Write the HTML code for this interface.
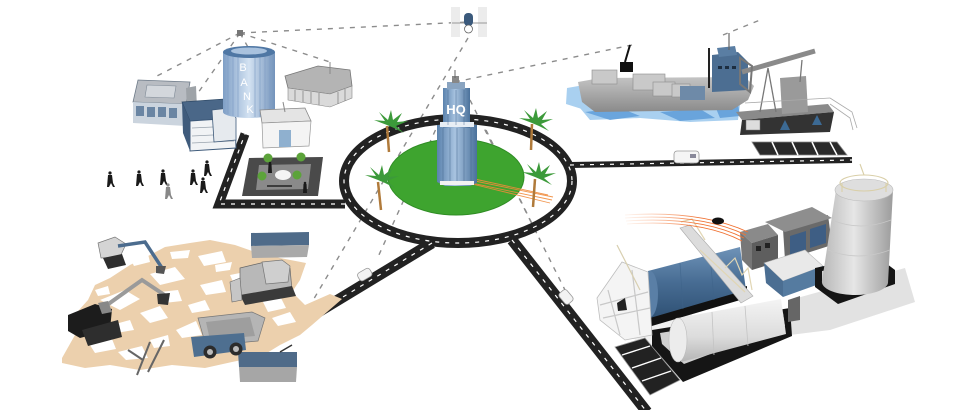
<!DOCTYPE html>
<html><head><meta charset="utf-8"><style>
html,body{margin:0;padding:0;background:#fff;}
svg{display:block}
text{font-family:"Liberation Sans",sans-serif;}
</style></head><body>
<svg width="960" height="410" viewBox="0 0 960 410" xmlns="http://www.w3.org/2000/svg">
<defs>
 <linearGradient id="glass" x1="0" x2="1"><stop offset="0" stop-color="#5a82ad"/><stop offset="0.45" stop-color="#a8c3e0"/><stop offset="1" stop-color="#4a719b"/></linearGradient>
 <linearGradient id="bankg" x1="0" x2="1"><stop offset="0" stop-color="#7f9fc6"/><stop offset="0.5" stop-color="#d3e2f2"/><stop offset="1" stop-color="#7393bb"/></linearGradient>
 <linearGradient id="cylB" x1="0" y1="0" x2="0" y2="1"><stop offset="0" stop-color="#6f93b8"/><stop offset="0.5" stop-color="#476c93"/><stop offset="1" stop-color="#2f5174"/></linearGradient>
 <linearGradient id="cylW" x1="0" y1="0" x2="0" y2="1"><stop offset="0" stop-color="#f4f4f4"/><stop offset="0.6" stop-color="#dcdcdc"/><stop offset="1" stop-color="#b5b5b5"/></linearGradient>
 <linearGradient id="silo" x1="0" x2="1"><stop offset="0" stop-color="#b8b8b8"/><stop offset="0.45" stop-color="#e6e6e6"/><stop offset="1" stop-color="#9c9c9c"/></linearGradient>
 <linearGradient id="hull" x1="0" y1="0" x2="0" y2="1"><stop offset="0" stop-color="#c4c4c4"/><stop offset="1" stop-color="#8a8a8a"/></linearGradient>
 <linearGradient id="orng" x1="0" x2="1"><stop offset="0" stop-color="#f7a070" stop-opacity="0.1"/><stop offset="0.6" stop-color="#f07030"/><stop offset="1" stop-color="#f07030"/></linearGradient>
</defs>

<!-- dashed network lines -->
<g stroke="#8c8c8c" stroke-width="1.4" stroke-dasharray="5 6" fill="none">
 <line x1="240" y1="33" x2="468" y2="22"/>
 <line x1="240" y1="33" x2="157" y2="76"/>
 <line x1="240" y1="33" x2="193" y2="100"/>
 <line x1="240" y1="33" x2="262" y2="72"/>
 <line x1="240" y1="33" x2="330" y2="62"/>
 <line x1="468" y1="38" x2="312" y2="302"/>
 <line x1="455" y1="82" x2="632" y2="45"/>
 <line x1="723" y1="35" x2="760" y2="20"/>
 <line x1="440" y1="120" x2="378" y2="257"/>
 <line x1="470" y1="100" x2="566" y2="292"/>
 <line x1="486" y1="130" x2="540" y2="240"/>
</g>
<rect x="237" y="30" width="6" height="6" fill="#777"/>

<!-- satellite -->
<rect x="451" y="7" width="9" height="30" fill="#ececec"/>
<rect x="478" y="7" width="9" height="30" fill="#ececec"/>
<line x1="452" y1="23" x2="487" y2="23" stroke="#999" stroke-width="1"/>
<rect x="464" y="13" width="9" height="13" rx="4" fill="#3b5a7c"/>
<circle cx="468.5" cy="29" r="4" fill="#fff" stroke="#666" stroke-width="0.8"/>

<!-- roads -->
<g stroke="#222" fill="none" stroke-linejoin="miter">
 <polyline points="345,204 219,204 245,134" stroke-width="9"/>
 <polyline points="570,165 852,160" stroke-width="6"/>
 <line x1="432" y1="243" x2="300" y2="323" stroke-width="11"/>
 <line x1="512" y1="240" x2="647" y2="412" stroke-width="11"/>
 <ellipse cx="458" cy="181" rx="114" ry="62" stroke-width="10"/>
</g>
<g stroke="#fff" fill="none" stroke-width="1.2" stroke-dasharray="4 6">
 <polyline points="345,204 219,204 245,134"/>
 <polyline points="570,165 852,160"/>
 <line x1="432" y1="243" x2="300" y2="323"/>
 <line x1="512" y1="240" x2="647" y2="412"/>
 <ellipse cx="458" cy="181" rx="114" ry="62"/>
</g>
<!-- right parking -->
<polygon points="752,142 837,142 847,155 760,155" fill="#2a2a2a" stroke="#888" stroke-width="0.8"/>
<g stroke="#fff" stroke-width="1.5"><line x1="772" y1="142" x2="778" y2="155"/><line x1="792" y1="142" x2="798" y2="155"/><line x1="812" y1="142" x2="818" y2="155"/><line x1="830" y1="142" x2="837" y2="155"/></g>

<!-- grass + tower -->
<ellipse cx="456" cy="177" rx="68" ry="38" fill="#3ea42f"/>
<ellipse cx="456" cy="177" rx="68" ry="38" fill="none" stroke="#2f8d24" stroke-width="1"/>
<g stroke="#f08a3a" stroke-width="0.9" opacity="0.9">
 <line x1="462" y1="181" x2="552" y2="200"/><line x1="465" y1="179" x2="553" y2="197"/><line x1="468" y1="183" x2="550" y2="203"/><line x1="470" y1="178" x2="548" y2="195"/>
</g>
<polygon points="437,125 477,125 477,183 470,186 445,186 437,182" fill="url(#glass)"/>
<polygon points="443,88 470,88 470,128 443,128" fill="url(#glass)"/>
<rect x="440" y="122" width="34" height="5" fill="#e8eef5"/>
<g stroke="#3c5f86" stroke-width="0.7" opacity="0.6">
 <line x1="448" y1="90" x2="448" y2="125"/><line x1="456" y1="90" x2="456" y2="125"/><line x1="464" y1="90" x2="464" y2="125"/>
 <line x1="443" y1="128" x2="443" y2="182"/><line x1="450" y1="128" x2="450" y2="184"/><line x1="457" y1="128" x2="457" y2="185"/><line x1="464" y1="128" x2="464" y2="185"/><line x1="471" y1="128" x2="471" y2="183"/>
</g>
<rect x="447" y="82" width="18" height="7" fill="#8aa4c0"/>
<rect x="452" y="76" width="7" height="7" fill="#888"/>
<line x1="455" y1="70" x2="455" y2="78" stroke="#666" stroke-width="1"/>
<text x="456" y="114" font-size="13" font-weight="bold" fill="#fff" text-anchor="middle">HQ</text>
<rect x="440" y="181" width="34" height="4" fill="#f2f2f2"/>

<!-- palms -->
<g>
 <path d="M387,126 L389,152" stroke="#b07a3a" stroke-width="2.5"/>
 <path d="M532,124 L531,150" stroke="#b07a3a" stroke-width="2.5"/>
 <path d="M378,182 L381,210" stroke="#b07a3a" stroke-width="2.5"/>
 <path d="M535,179 L533,207" stroke="#b07a3a" stroke-width="2.5"/>
 <g fill="#3c9a3a">
  <path d="M387,125 l-13,-5 l11,1 l-6,-9 l9,8 l3,-10 l2,10 l9,-7 l-5,9 l11,-1 l-12,5 l8,7 l-10,-5z"/>
  <path d="M532,123 l-13,-5 l11,1 l-6,-9 l9,8 l3,-10 l2,10 l9,-7 l-5,9 l11,-1 l-12,5 l8,7 l-10,-5z"/>
  <path d="M378,180 l-13,-5 l11,1 l-6,-9 l9,8 l3,-10 l2,10 l9,-7 l-5,9 l11,-1 l-12,5 l8,7 l-10,-5z"/>
  <path d="M535,177 l-13,-5 l11,1 l-6,-9 l9,8 l3,-10 l2,10 l9,-7 l-5,9 l11,-1 l-12,5 l8,7 l-10,-5z"/>
 </g>
</g>

<!-- top-left buildings -->
<polygon points="138,80 190,82 186,104 133,102" fill="#b8bcc2" stroke="#6d7a88" stroke-width="0.8"/>
<polygon points="147,85 176,86 174,98 145,97" fill="#d3d7dc" stroke="#7f8a96" stroke-width="0.6"/>
<polygon points="133,102 186,104 186,126 133,123" fill="#cbd4de"/>
<g fill="#6a85a3"><rect x="136" y="106" width="8" height="10"/><rect x="147" y="107" width="8" height="10"/><rect x="158" y="107" width="8" height="10"/><rect x="169" y="108" width="8" height="10"/></g>
<polygon points="186,88 196,86 198,130 188,132" fill="#9ea3a8"/>
<polygon points="182,102 225,99 235,118 190,121" fill="#4a6788" stroke="#2e4966" stroke-width="0.8"/>
<polygon points="190,121 235,118 236,148 190,151" fill="#f1f3f5" stroke="#3e5a7a" stroke-width="1"/>
<polygon points="182,102 190,121 190,151 183,133" fill="#3f5b7c"/>
<g stroke="#9aa4ae" stroke-width="0.8"><line x1="192" y1="128" x2="234" y2="126"/><line x1="192" y1="136" x2="234" y2="134"/><line x1="192" y1="143" x2="234" y2="141"/></g>
<polygon points="212,110 230,108 236,118 236,140 214,142" fill="#e6eaee" stroke="#3e5a7a" stroke-width="0.8"/>
<path d="M223,52 L223,112 A26,6 0 0 0 275,112 L275,52 Z" fill="url(#bankg)"/>
<g stroke="#7d9cc4" stroke-width="0.8" opacity="0.8">
 <line x1="228" y1="54" x2="228" y2="114"/><line x1="233" y1="55" x2="233" y2="116"/><line x1="238" y1="56" x2="238" y2="117"/><line x1="255" y1="56" x2="255" y2="117"/><line x1="260" y1="56" x2="260" y2="117"/><line x1="265" y1="55" x2="265" y2="116"/><line x1="270" y1="54" x2="270" y2="114"/>
</g>
<ellipse cx="249" cy="52" rx="26" ry="6" fill="#4f77a4"/>
<ellipse cx="249" cy="51" rx="18" ry="3.5" fill="#a9c2de"/>
<g font-size="11" fill="#fff" text-anchor="middle">
 <text x="243" y="71">B</text><text x="244" y="86">A</text><text x="247" y="100">N</text><text x="250" y="113">K</text>
</g>
<polygon points="285,76 318,66 350,70 352,86 330,94 288,88" fill="#b4b4b4" stroke="#777" stroke-width="0.8"/>
<polygon points="288,88 330,94 352,86 352,98 330,107 288,100" fill="#dadada" stroke="#888" stroke-width="0.6"/>
<g stroke="#777" stroke-width="0.7"><line x1="295" y1="90" x2="295" y2="101"/><line x1="303" y1="91" x2="303" y2="102"/><line x1="311" y1="92" x2="311" y2="103"/><line x1="319" y1="93" x2="319" y2="105"/><line x1="338" y1="92" x2="338" y2="104"/><line x1="345" y1="89" x2="345" y2="101"/></g>
<line x1="330" y1="62" x2="330" y2="74" stroke="#888" stroke-width="1"/>
<polygon points="260,110 305,108 311,121 262,123" fill="#e4e4e4" stroke="#888" stroke-width="0.8"/>
<polygon points="262,123 311,121 309,146 263,148" fill="#f4f4f4" stroke="#999" stroke-width="0.7"/>
<rect x="279" y="130" width="12" height="17" fill="#8fb0cf"/>
<line x1="283" y1="102" x2="285" y2="112" stroke="#888" stroke-width="1"/>
<polygon points="249,158 323,157 318,196 242,196" fill="#4a4a4a"/>
<polygon points="259,165 311,164 308,189 256,190" fill="#8a8a8a"/>
<ellipse cx="283" cy="175" rx="8" ry="5" fill="#f4f4f4"/>
<g fill="#5ca33a"><circle cx="268" cy="158" r="4.5"/><circle cx="301" cy="157" r="4.5"/><circle cx="262" cy="176" r="4.5"/><circle cx="297" cy="175" r="4.5"/></g>
<line x1="267" y1="186" x2="292" y2="186" stroke="#222" stroke-width="1.5"/>

<!-- people -->
<g fill="#1a1a1a">
 <g transform="translate(110,180)"><circle cx="0" cy="-7" r="1.6"/><path d="M-2,-5 L2,-5 L3,3 L5,7 L3,7 L1,3 L-1,7 L-3,7 Z"/></g>
 <g transform="translate(139,179)"><circle cx="0" cy="-7" r="1.6"/><path d="M-2,-5 L2,-5 L3,3 L5,7 L3,7 L1,3 L-1,7 L-3,7 Z"/></g>
 <g transform="translate(163,178)"><circle cx="0" cy="-7" r="1.6"/><path d="M-2,-5 L2,-5 L3,3 L5,7 L3,7 L1,3 L-1,7 L-3,7 Z"/></g>
 <g transform="translate(193,178)"><circle cx="0" cy="-7" r="1.6"/><path d="M-2,-5 L2,-5 L3,3 L5,7 L3,7 L1,3 L-1,7 L-3,7 Z"/></g>
 <g transform="translate(207,169)"><circle cx="0" cy="-7" r="1.6"/><path d="M-2,-5 L2,-5 L3,3 L5,7 L3,7 L1,3 L-1,7 L-3,7 Z"/></g>
 <g transform="translate(203,186)"><circle cx="0" cy="-7" r="1.6"/><path d="M-2,-5 L2,-5 L3,3 L5,7 L3,7 L1,3 L-1,7 L-3,7 Z"/></g>
 <g transform="translate(168,192)" fill="#888"><circle cx="0" cy="-7" r="1.6"/><path d="M-2,-5 L2,-5 L3,3 L5,7 L3,7 L1,3 L-1,7 L-3,7 Z"/></g>
 <g transform="translate(270,168)"><circle cx="0" cy="-5" r="1.3"/><path d="M-1.5,-4 L1.5,-4 L2,5 L-2,5 Z"/></g>
 <g transform="translate(305,188)"><circle cx="0" cy="-5" r="1.3"/><path d="M-1.5,-4 L1.5,-4 L2,5 L-2,5 Z"/></g>
</g>

<!-- sand -->
<polygon points="62,358 75,335 70,320 88,300 95,285 110,278 130,265 150,255 165,247 190,243 210,240 235,245 255,252 280,258 306,263 300,280 292,292 305,305 330,294 342,299 312,325 300,335 280,345 262,356 232,362 205,368 172,365 140,370 110,365 85,368 62,363" fill="#ecd0ad"/>
<g fill="#fff">
 <polygon points="100,300 125,290 140,299 120,310"/>
 <polygon points="150,274 175,267 185,279 160,285"/>
 <polygon points="198,256 222,251 226,262 204,266"/>
 <polygon points="88,342 110,334 116,349 95,353"/>
 <polygon points="176,330 196,321 202,335 182,338"/>
 <polygon points="140,313 160,306 168,318 150,323"/>
 <polygon points="118,352 142,346 148,358 126,360"/>
 <polygon points="200,285 222,280 226,292 206,295"/>
 <polygon points="262,300 280,296 286,308 268,312"/>
 <polygon points="75,318 90,312 94,324 80,327"/>
 <polygon points="160,292 178,290 182,301 164,303"/>
 <polygon points="130,258 148,254 150,262 134,266"/>
 <polygon points="230,275 245,272 248,282 234,284"/>
 <polygon points="170,252 190,250 188,258 172,259"/>
 <polygon points="112,325 130,320 134,330 116,333"/>
 <polygon points="188,305 205,300 210,310 192,313"/>
 <polygon points="215,265 232,262 230,270 216,272"/>
 <polygon points="272,318 290,312 296,322 278,326"/>
 <polygon points="150,340 168,335 170,346 154,348"/>
 <polygon points="95,290 108,286 110,294 98,296"/>
 <polygon points="250,285 262,282 266,292 252,294"/>
</g>
<!-- containers -->
<polygon points="251,233 309,232 309,245 251,246" fill="#4f6b89"/>
<polygon points="251,246 309,245 307,257 252,258" fill="#a9a9a9"/>
<polygon points="238,352 297,352 297,367 239,367" fill="#4f6b89"/>
<polygon points="239,367 297,367 296,382 240,382" fill="#a6a6a6"/>
<line x1="280" y1="352" x2="292" y2="345" stroke="#333" stroke-width="1.5"/>
<!-- bulldozer -->
<polygon points="240,268 265,262 290,268 292,290 270,300 240,295" fill="#b8b8b8" stroke="#666" stroke-width="0.7"/>
<polygon points="262,262 282,260 290,266 288,282 266,284" fill="#cfcfcf" stroke="#777" stroke-width="0.7"/>
<polygon points="240,295 292,286 296,296 245,305" fill="#3a3a3a"/>
<polygon points="230,282 240,278 242,300 232,302" fill="#c6c6c6" stroke="#666" stroke-width="0.6"/>
<!-- top excavator -->
<polygon points="98,243 115,237 126,244 120,257 101,258" fill="#d4d4d4" stroke="#777" stroke-width="0.7"/>
<polygon points="103,258 122,254 126,265 108,269" fill="#2e2e2e"/>
<polyline points="118,246 145,242 162,268" fill="none" stroke="#4c6c8e" stroke-width="3.5"/>
<polygon points="156,266 166,266 164,274 156,273" fill="#555"/>
<!-- black excavator -->
<polyline points="100,310 142,280 166,296" fill="none" stroke="#9a9a9a" stroke-width="4"/>
<polygon points="157,294 170,293 168,305 158,304" fill="#333"/>
<polygon points="68,315 95,304 112,309 110,330 80,338 68,331" fill="#1c1c1c"/>
<polygon points="82,330 118,320 122,337 88,346" fill="#2e2e2e"/>
<polygon points="98,303 108,301 112,312 102,314" fill="#888"/>
<!-- dump truck -->
<polygon points="198,318 252,312 265,318 258,341 206,346" fill="#b5b5b5" stroke="#777" stroke-width="0.7"/>
<polygon points="206,322 250,317 255,336 210,340" fill="#9e9e9e"/>
<polygon points="191,337 244,333 246,350 194,357" fill="#4e6f90"/>
<circle cx="210" cy="352" r="6.5" fill="#2c2c2c"/><circle cx="210" cy="352" r="3" fill="#bbb"/>
<circle cx="236" cy="349" r="6.5" fill="#2c2c2c"/><circle cx="236" cy="349" r="3" fill="#bbb"/>
<!-- tool -->
<g stroke="#666" stroke-width="2" fill="none"><line x1="137" y1="375" x2="150" y2="342"/><line x1="148" y1="372" x2="164" y2="340"/><line x1="128" y1="350" x2="143" y2="360"/></g>

<!-- cars -->
<g>
 <rect x="358" y="270" width="14" height="9" rx="3" fill="#f3f3f3" stroke="#999" stroke-width="0.8" transform="rotate(-30 365 275)"/>
 <rect x="559" y="292" width="14" height="10" rx="3" fill="#f3f3f3" stroke="#999" stroke-width="0.8" transform="rotate(50 566 297)"/>
 <rect x="674" y="151" width="25" height="12" rx="3" fill="#f5f5f5" stroke="#9a9a9a" stroke-width="0.8"/>
 <rect x="690" y="154" width="6" height="4" fill="#889"/>
</g>

<!-- ship -->
<g fill="#a9d0f0">
 <polygon points="567,88 590,84 600,100 585,110 566,104"/>
 <polygon points="580,108 640,104 700,110 740,105 738,120 690,122 640,118 590,120"/>
</g>
<g fill="#5f9dd9" opacity="0.85">
 <polygon points="585,112 620,108 640,116 610,120"/>
 <polygon points="660,112 700,109 715,118 680,121"/>
 <polygon points="715,106 738,104 740,116 720,118"/>
</g>
<polygon points="578,82 600,78 745,77 754,86 748,100 732,110 595,112 582,102" fill="url(#hull)"/>
<g fill="#c9c9c9" stroke="#8c8c8c" stroke-width="0.6">
 <rect x="592" y="70" width="25" height="14"/><rect x="633" y="74" width="32" height="16"/><rect x="653" y="82" width="22" height="14"/><rect x="672" y="84" width="18" height="13"/>
</g>
<polygon points="680,86 705,86 705,100 680,100" fill="#6e8aa8"/>
<polygon points="712,55 738,52 748,62 748,90 712,92" fill="#4c6e92"/>
<polygon points="717,48 735,46 737,55 719,57" fill="#5a7ea3"/>
<g fill="#1c2d40"><rect x="718" y="66" width="4" height="3"/><rect x="725" y="66" width="4" height="3"/><rect x="732" y="66" width="4" height="3"/></g>
<line x1="729" y1="33" x2="729" y2="50" stroke="#666" stroke-width="1.2"/>
<line x1="709" y1="48" x2="709" y2="88" stroke="#222" stroke-width="2"/>
<polygon points="620,62 633,62 633,72 620,72" fill="#111"/>
<line x1="625" y1="62" x2="630" y2="45" stroke="#111" stroke-width="2"/>
<!-- pump jack -->
<polygon points="736,112 828,104 834,112 742,120" fill="#8a8a8a"/>
<polygon points="742,120 834,112 830,132 740,135" fill="#333"/>
<rect x="746" y="120" width="14" height="10" fill="#ddd" stroke="#777" stroke-width="0.5"/>
<polygon points="780,130 785,120 790,130" fill="#3c6a94"/>
<polygon points="812,125 817,115 822,125" fill="#3c6a94"/>
<polygon points="780,78 806,76 808,112 782,114" fill="#9a9a9a"/>
<line x1="742" y1="72" x2="815" y2="51" stroke="#8a8a8a" stroke-width="5"/>
<path d="M740,58 L752,66 L750,92 L740,84 Z" fill="none" stroke="#777" stroke-width="2"/>
<g stroke="#777" stroke-width="1.3" fill="none"><line x1="760" y1="112" x2="768" y2="68"/><line x1="776" y1="112" x2="768" y2="68"/><line x1="802" y1="60" x2="800" y2="82"/></g>
<g stroke="#aaa" stroke-width="0.8" fill="none"><polyline points="830,98 852,112 857,128"/><polyline points="830,104 850,118 853,130"/><line x1="745" y1="103" x2="830" y2="98"/></g>

<!-- industrial -->
<polygon points="600,300 650,280 690,300 700,375 640,345" fill="#f0f0f0"/>
<polygon points="790,300 905,268 915,302 830,330 790,335" fill="#e2e2e2"/>
<!-- bottom parking -->
<polygon points="615,347 645,338 680,380 650,395" fill="#222" stroke="#999" stroke-width="0.8"/>
<g stroke="#fff" stroke-width="1.4"><line x1="622" y1="355" x2="650" y2="346"/><line x1="632" y1="368" x2="661" y2="358"/><line x1="642" y1="381" x2="671" y2="371"/></g>
<polygon points="642,314 747,286 747,298 645,328" fill="#111"/>
<polygon points="648,271 740,247 746,290 650,318" fill="url(#cylB)"/>
<ellipse cx="650" cy="294" rx="8" ry="23" fill="#5a7fa6"/>
<g stroke="#3e6389" stroke-width="0.8" opacity="0.6"><line x1="680" y1="263" x2="683" y2="309"/><line x1="710" y1="255" x2="714" y2="300"/></g>
<polygon points="652,330 790,308 792,336 683,382 652,346" fill="#151515"/>
<polygon points="660,333 783,313 785,326 684,364 662,344" fill="#cfcfcf"/>
<polygon points="678,318 781,299 786,334 681,362" fill="url(#cylW)"/>
<ellipse cx="678" cy="340" rx="9" ry="22" fill="#ececec" stroke="#bbb" stroke-width="0.6"/>
<g stroke="#c4c4c4" stroke-width="0.8"><line x1="712" y1="312" x2="714" y2="355"/><line x1="745" y1="306" x2="748" y2="346"/></g>
<polygon points="597,298 622,262 648,272 652,335 625,340 600,320" fill="#f4f4f4" stroke="#bdbdbd" stroke-width="0.8"/>
<g stroke="#c8c8c8" stroke-width="1.2" fill="none"><line x1="608" y1="290" x2="620" y2="335"/><line x1="632" y1="270" x2="640" y2="335"/><line x1="600" y1="305" x2="648" y2="292"/><line x1="603" y1="318" x2="650" y2="308"/></g>
<polygon points="617,303 625,298 627,310 618,311" fill="#222"/>
<line x1="617" y1="245" x2="640" y2="290" stroke="#d8cfb0" stroke-width="1.2"/>
<polygon points="680,228 690,225 753,296 741,303" fill="#dcdcdc" stroke="#aaa" stroke-width="0.6"/>
<g stroke="#e1d6b4" stroke-width="1.2" fill="none"><polyline points="681,222 692,219 705,240"/><polyline points="700,250 745,292"/><polyline points="725,268 735,258 742,275 748,268 752,290"/></g>
<polygon points="783,229 828,215 832,245 785,260" fill="#6a6a6a"/>
<polygon points="765,222 812,207 832,218 785,232" fill="#8e8e8e"/>
<g fill="#3e5e84"><polygon points="790,236 806,231 806,250 790,255"/><polygon points="810,229 826,224 826,243 810,248"/></g>
<polygon points="740,232 768,224 778,235 752,243" fill="#8a8a8a"/>
<polygon points="752,243 778,235 778,262 752,270" fill="#5e5e5e"/>
<polygon points="740,232 752,243 752,270 742,260" fill="#777"/>
<g fill="#222"><rect x="756" y="246" width="5" height="5"/><rect x="765" y="243" width="5" height="5"/></g>
<polygon points="764,263 805,250 823,266 783,281" fill="#e9e9e9" stroke="#bbb" stroke-width="0.6"/>
<polygon points="764,263 783,281 783,297 766,283" fill="#4b6e92"/>
<polygon points="783,281 823,266 822,283 783,297" fill="#557ba0"/>
<polygon points="788,300 800,296 800,320 788,322" fill="#666"/>
<polygon points="815,268 875,255 895,270 895,284 838,304 815,287" fill="#151515"/>
<polygon points="822,271 872,261 887,272 838,292 822,282" fill="#d0d0d0"/>
<path d="M836,190 L822,281 A33,13 0 0 0 888,283 L893,190 Z" fill="url(#silo)"/>
<ellipse cx="864" cy="190" rx="29" ry="11" fill="#dedede" stroke="#bbb" stroke-width="0.6"/>
<g stroke="#c9c9c9" stroke-width="0.8" fill="none"><path d="M832,220 Q860,232 891,220"/><path d="M828,250 Q858,262 890,250"/></g>
<g stroke="#d9cfa8" stroke-width="1.1" fill="none"><ellipse cx="864" cy="183" rx="24" ry="8"/><line x1="842" y1="183" x2="842" y2="192"/><line x1="886" y1="183" x2="886" y2="192"/><line x1="864" y1="175" x2="860" y2="164"/></g>
<g fill="none" stroke="url(#orng)" stroke-width="0.9">
 <path d="M625,215 Q700,210 748,232"/><path d="M625,218 Q700,213 746,235"/><path d="M626,221 Q700,216 744,238"/><path d="M627,224 Q700,219 742,241"/>
</g>
<ellipse cx="718" cy="221" rx="6" ry="3.5" fill="#111"/>
</svg>
</body></html>
